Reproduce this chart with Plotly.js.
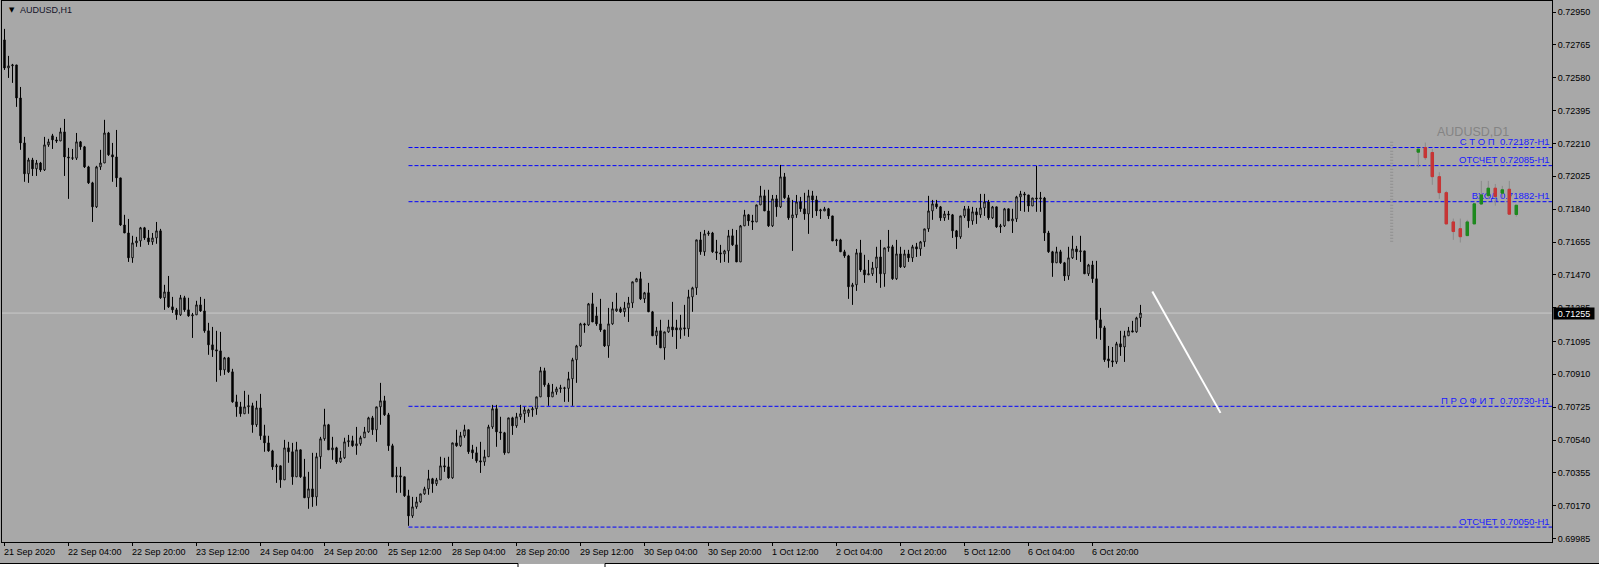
<!DOCTYPE html>
<html><head><meta charset="utf-8">
<script src="https://cdn.plot.ly/plotly-3.0.1.min.js"></script>
<style>html,body{margin:0;padding:0;background:#a8a8a8;}#chart{width:1599px;height:567px;}</style>
</head><body><div id="chart"></div>
<script>
// ---- H1 candles (AUDUSD) ----
const barOpen = [
0.72793,0.72635,0.72647,0.72652,0.72466,0.72213,0.72039,0.72117,0.72067,0.72100,
0.72061,0.72202,0.72253,0.72230,0.72224,0.72275,0.72134,0.72129,0.72127,0.72219,
0.72191,0.72078,0.71988,0.71853,0.72078,0.72100,0.72269,0.72146,0.72134,0.72016,
0.71751,0.71706,0.71566,0.71650,0.71661,0.71735,0.71678,0.71656,0.71678,0.71718,
0.71341,0.71374,0.71290,0.71273,0.71245,0.71341,0.71273,0.71239,0.71245,0.71301,
0.71267,0.71155,0.71076,0.71048,0.71042,0.70935,0.71003,0.70924,0.70755,0.70727,
0.70688,0.70727,0.70733,0.70626,0.70721,0.70564,0.70524,0.70479,0.70389,0.70395,
0.70316,0.70496,0.70474,0.70333,0.70485,0.70333,0.70215,0.70265,0.70220,0.70446,
0.70547,0.70626,0.70485,0.70496,0.70417,0.70440,0.70530,0.70536,0.70508,0.70519,
0.70553,0.70586,0.70665,0.70598,0.70727,0.70761,0.70682,0.70508,0.70333,0.70339,
0.70333,0.70226,0.70113,0.70164,0.70192,0.70237,0.70265,0.70322,0.70294,0.70316,
0.70395,0.70389,0.70327,0.70524,0.70508,0.70564,0.70598,0.70485,0.70468,0.70423,
0.70417,0.70446,0.70614,0.70716,0.70586,0.70581,0.70468,0.70665,0.70620,0.70671,
0.70688,0.70693,0.70710,0.70716,0.70783,0.70930,0.70851,0.70783,0.70811,0.70828,
0.70834,0.70831,0.70885,0.70992,0.71070,0.71194,0.71188,0.71307,0.71239,0.71194,
0.71160,0.71070,0.71194,0.71267,0.71279,0.71262,0.71284,0.71312,0.71431,0.71448,
0.71335,0.71369,0.71262,0.71127,0.71155,0.71059,0.71149,0.71177,0.71172,0.71160,
0.71172,0.71166,0.71346,0.71397,0.71667,0.71600,0.71701,0.71706,0.71600,0.71594,
0.71588,0.71605,0.71690,0.71639,0.71543,0.71746,0.71808,0.71774,0.71768,0.71864,
0.71915,0.71830,0.71746,0.71898,0.71853,0.72022,0.71904,0.71791,0.71808,0.71881,
0.71842,0.71813,0.71915,0.71892,0.71830,0.71830,0.71842,0.71802,0.71661,0.71667,
0.71600,0.71577,0.71403,0.71414,0.71594,0.71498,0.71470,0.71476,0.71509,0.71571,
0.71476,0.71622,0.71628,0.71448,0.71588,0.71515,0.71588,0.71566,0.71628,0.71616,
0.71656,0.71729,0.71830,0.71870,0.71853,0.71791,0.71813,0.71808,0.71718,0.71684,
0.71802,0.71842,0.71774,0.71825,0.71808,0.71847,0.71881,0.71791,0.71853,0.71740,
0.71746,0.71842,0.71774,0.71785,0.71909,0.71926,0.71920,0.71858,0.71903,0.71898,
0.71903,0.71706,0.71600,0.71538,0.71600,0.71538,0.71464,0.71566,0.71616,0.71600,
0.71605,0.71476,0.71526,0.71448,0.71217,0.71172,0.70997,0.70986,0.70980,0.71082,
0.71064,0.71127,0.71155,0.71149,0.71228];
const barHigh = [
0.72855,0.72703,0.72658,0.72652,0.72528,0.72247,0.72129,0.72129,0.72117,0.72106,
0.72247,0.72236,0.72264,0.72247,0.72298,0.72348,0.72185,0.72179,0.72269,0.72224,
0.72196,0.72084,0.71994,0.72084,0.72174,0.72343,0.72275,0.72213,0.72286,0.72016,
0.71808,0.71785,0.71690,0.71684,0.71740,0.71740,0.71723,0.71706,0.71768,0.71729,
0.71414,0.71464,0.71346,0.71284,0.71357,0.71352,0.71341,0.71256,0.71324,0.71346,
0.71335,0.71200,0.71177,0.71155,0.71149,0.71008,0.71008,0.70941,0.70795,0.70755,
0.70817,0.70795,0.70750,0.70761,0.70800,0.70626,0.70564,0.70485,0.70406,0.70395,
0.70541,0.70530,0.70524,0.70530,0.70485,0.70434,0.70361,0.70468,0.70468,0.70558,
0.70716,0.70631,0.70558,0.70502,0.70479,0.70553,0.70569,0.70564,0.70614,0.70564,
0.70614,0.70671,0.70676,0.70727,0.70862,0.70789,0.70693,0.70519,0.70389,0.70389,
0.70333,0.70260,0.70220,0.70220,0.70237,0.70277,0.70372,0.70327,0.70327,0.70446,
0.70440,0.70446,0.70524,0.70598,0.70586,0.70626,0.70598,0.70513,0.70502,0.70530,
0.70485,0.70626,0.70738,0.70738,0.70671,0.70586,0.70665,0.70671,0.70693,0.70738,
0.70727,0.70716,0.70727,0.70783,0.70952,0.70947,0.70862,0.70856,0.70840,0.70851,
0.70840,0.70924,0.71003,0.71076,0.71200,0.71200,0.71312,0.71369,0.71290,0.71335,
0.71160,0.71284,0.71318,0.71369,0.71290,0.71318,0.71346,0.71431,0.71453,0.71487,
0.71374,0.71425,0.71267,0.71177,0.71217,0.71149,0.71217,0.71318,0.71217,0.71245,
0.71301,0.71386,0.71403,0.71667,0.71712,0.71723,0.71718,0.71712,0.71667,0.71639,
0.71611,0.71723,0.71729,0.71723,0.71751,0.71836,0.71813,0.71808,0.71864,0.71971,
0.71949,0.71949,0.71920,0.71920,0.72089,0.72044,0.71920,0.71892,0.71920,0.71909,
0.71932,0.71949,0.71943,0.71915,0.71842,0.71853,0.71847,0.71802,0.71673,0.71673,
0.71611,0.71583,0.71425,0.71616,0.71667,0.71583,0.71554,0.71543,0.71628,0.71667,
0.71622,0.71723,0.71639,0.71667,0.71628,0.71611,0.71611,0.71639,0.71650,0.71661,
0.71729,0.71915,0.71892,0.71892,0.71858,0.71830,0.71830,0.71813,0.71723,0.71802,
0.71858,0.71858,0.71853,0.71847,0.71926,0.71926,0.71892,0.71858,0.71853,0.71757,
0.71847,0.71842,0.71842,0.71915,0.71943,0.71937,0.71920,0.71903,0.72084,0.71937,
0.71909,0.71718,0.71605,0.71628,0.71611,0.71543,0.71628,0.71690,0.71633,0.71690,
0.71605,0.71532,0.71549,0.71549,0.71284,0.71183,0.71070,0.71064,0.71093,0.71155,
0.71155,0.71177,0.71211,0.71234,0.71301];
const barLow = [
0.72624,0.72579,0.72551,0.72416,0.72174,0.71994,0.71988,0.72027,0.72027,0.72050,
0.72055,0.72191,0.72179,0.72213,0.72224,0.72027,0.71898,0.72117,0.72117,0.72174,
0.72072,0.71982,0.71768,0.71847,0.72061,0.72100,0.72140,0.71994,0.71965,0.71746,
0.71706,0.71543,0.71538,0.71628,0.71628,0.71667,0.71639,0.71639,0.71645,0.71335,
0.71273,0.71284,0.71256,0.71217,0.71239,0.71262,0.71234,0.71115,0.71245,0.71262,
0.71144,0.71020,0.71008,0.70868,0.70902,0.70907,0.70918,0.70750,0.70671,0.70671,
0.70688,0.70688,0.70581,0.70614,0.70541,0.70474,0.70474,0.70372,0.70299,0.70271,
0.70316,0.70412,0.70288,0.70333,0.70327,0.70215,0.70153,0.70164,0.70170,0.70378,
0.70536,0.70485,0.70429,0.70406,0.70412,0.70434,0.70502,0.70502,0.70457,0.70508,
0.70553,0.70581,0.70569,0.70530,0.70626,0.70676,0.70479,0.70333,0.70243,0.70243,
0.70220,0.70057,0.70102,0.70153,0.70187,0.70232,0.70232,0.70243,0.70282,0.70316,
0.70361,0.70322,0.70322,0.70502,0.70502,0.70553,0.70462,0.70434,0.70412,0.70355,
0.70395,0.70446,0.70603,0.70502,0.70541,0.70457,0.70468,0.70569,0.70609,0.70654,
0.70637,0.70671,0.70671,0.70682,0.70783,0.70840,0.70733,0.70783,0.70795,0.70806,
0.70755,0.70755,0.70733,0.70862,0.71064,0.71144,0.71183,0.71205,0.71183,0.71149,
0.71064,0.71003,0.71189,0.71262,0.71256,0.71234,0.71205,0.71284,0.71431,0.71329,
0.71312,0.71262,0.71127,0.71076,0.71059,0.70992,0.71144,0.71121,0.71053,0.71110,
0.71127,0.71121,0.71262,0.71357,0.71583,0.71577,0.71690,0.71594,0.71554,0.71538,
0.71543,0.71538,0.71633,0.71543,0.71543,0.71746,0.71746,0.71723,0.71768,0.71864,
0.71830,0.71740,0.71740,0.71797,0.71847,0.71898,0.71780,0.71605,0.71791,0.71825,
0.71780,0.71701,0.71791,0.71802,0.71785,0.71830,0.71785,0.71661,0.71633,0.71600,
0.71566,0.71335,0.71301,0.71380,0.71487,0.71425,0.71470,0.71464,0.71425,0.71397,
0.71403,0.71600,0.71442,0.71442,0.71509,0.71509,0.71543,0.71543,0.71571,0.71577,
0.71628,0.71712,0.71780,0.71842,0.71774,0.71774,0.71780,0.71678,0.71616,0.71673,
0.71791,0.71735,0.71752,0.71757,0.71791,0.71802,0.71780,0.71785,0.71735,0.71706,
0.71740,0.71774,0.71706,0.71768,0.71830,0.71825,0.71825,0.71858,0.71825,0.71825,
0.71661,0.71594,0.71459,0.71538,0.71532,0.71436,0.71442,0.71560,0.71554,0.71543,
0.71476,0.71464,0.71425,0.71110,0.71104,0.70980,0.70947,0.70952,0.70969,0.71014,
0.70980,0.71127,0.71149,0.71144,0.71177];
const barClose = [
0.72635,0.72647,0.72652,0.72466,0.72213,0.72039,0.72117,0.72067,0.72100,0.72061,
0.72202,0.72219,0.72230,0.72224,0.72275,0.72134,0.72129,0.72127,0.72219,0.72191,
0.72078,0.71988,0.71853,0.72078,0.72100,0.72269,0.72146,0.72134,0.72016,0.71751,
0.71706,0.71566,0.71650,0.71661,0.71735,0.71678,0.71656,0.71678,0.71718,0.71341,
0.71374,0.71290,0.71273,0.71245,0.71341,0.71273,0.71239,0.71245,0.71301,0.71267,
0.71155,0.71076,0.71048,0.71042,0.70935,0.71003,0.70924,0.70755,0.70727,0.70688,
0.70727,0.70733,0.70626,0.70721,0.70564,0.70524,0.70479,0.70389,0.70395,0.70316,
0.70496,0.70474,0.70333,0.70485,0.70333,0.70215,0.70265,0.70220,0.70446,0.70547,
0.70626,0.70485,0.70496,0.70417,0.70440,0.70530,0.70536,0.70508,0.70519,0.70553,
0.70586,0.70665,0.70598,0.70727,0.70761,0.70682,0.70508,0.70333,0.70339,0.70333,
0.70226,0.70113,0.70164,0.70192,0.70237,0.70265,0.70322,0.70294,0.70316,0.70395,
0.70389,0.70327,0.70524,0.70508,0.70564,0.70598,0.70474,0.70468,0.70423,0.70417,
0.70446,0.70614,0.70716,0.70586,0.70581,0.70468,0.70665,0.70620,0.70671,0.70688,
0.70710,0.70710,0.70716,0.70783,0.70930,0.70851,0.70783,0.70811,0.70828,0.70834,
0.70831,0.70885,0.70992,0.71070,0.71194,0.71188,0.71307,0.71205,0.71194,0.71160,
0.71070,0.71194,0.71279,0.71279,0.71262,0.71284,0.71312,0.71431,0.71448,0.71335,
0.71369,0.71262,0.71127,0.71155,0.71059,0.71149,0.71177,0.71160,0.71160,0.71172,
0.71166,0.71346,0.71397,0.71667,0.71600,0.71701,0.71706,0.71600,0.71594,0.71588,
0.71605,0.71690,0.71639,0.71543,0.71746,0.71808,0.71774,0.71768,0.71864,0.71915,
0.71830,0.71746,0.71898,0.71853,0.72022,0.71904,0.71791,0.71808,0.71881,0.71842,
0.71813,0.71915,0.71892,0.71830,0.71836,0.71842,0.71802,0.71661,0.71667,0.71600,
0.71577,0.71403,0.71414,0.71594,0.71498,0.71470,0.71476,0.71509,0.71571,0.71476,
0.71622,0.71628,0.71448,0.71588,0.71515,0.71588,0.71566,0.71628,0.71616,0.71656,
0.71729,0.71830,0.71870,0.71853,0.71791,0.71813,0.71808,0.71718,0.71684,0.71802,
0.71842,0.71774,0.71825,0.71808,0.71847,0.71881,0.71791,0.71853,0.71740,0.71746,
0.71842,0.71774,0.71785,0.71909,0.71926,0.71920,0.71858,0.71903,0.71898,0.71903,
0.71706,0.71600,0.71538,0.71600,0.71538,0.71464,0.71566,0.71616,0.71600,0.71605,
0.71476,0.71526,0.71448,0.71217,0.71172,0.70992,0.70986,0.70980,0.71082,0.71064,
0.71127,0.71155,0.71149,0.71228,0.71255];

// ---- time axis labels (every 16 H1 bars) ----
const tickBars = [0,16,32,48,64,80,96,112,128,144,160,176,192,208,224,240,256,272];
const tickLabels = ["21 Sep 2020","22 Sep 04:00","22 Sep 20:00","23 Sep 12:00","24 Sep 04:00","24 Sep 20:00",
  "25 Sep 12:00","28 Sep 04:00","28 Sep 20:00","29 Sep 12:00","30 Sep 04:00","30 Sep 20:00",
  "1 Oct 12:00","2 Oct 04:00","2 Oct 20:00","5 Oct 12:00","6 Oct 04:00","6 Oct 20:00"];

// ---- price axis labels ----
const priceTicks = [0.72950,0.72765,0.72580,0.72395,0.72210,0.72025,0.71840,0.71655,0.71470,
  0.71285,0.71095,0.70910,0.70725,0.70540,0.70355,0.70170,0.69985];

// ---- horizontal levels ----
const levelPrices = [0.72187,0.72085,0.71882,0.70730,0.70050];
const levelLabels = ["С Т О П  0.72187-H1","ОТСЧЕТ 0.72085-H1","ВХОД 0.71882-H1","П Р О Ф И Т  0.70730-H1","ОТСЧЕТ 0.70050-H1"];
const levelStartBar = 101;
const lastPrice = 0.71255;

// ---- trend line ----
const trendX = [286.95, 304.0];
const trendY = [0.71376, 0.70693];

// ---- AUDUSD D1 overlay ----
const d1Open  = [0.72161,0.72187,0.72159,0.72023,0.71933,0.71768,0.71730,0.71691,0.71757,0.71869,0.71916,0.71958,0.71930,0.71952,0.71810];
const d1High  = [0.72179,0.72215,0.72178,0.72048,0.71943,0.71787,0.71787,0.71780,0.71870,0.71999,0.71999,0.71982,0.71971,0.71999,0.71862];
const d1Low   = [0.72076,0.72117,0.71977,0.71898,0.71757,0.71667,0.71652,0.71691,0.71757,0.71866,0.71896,0.71860,0.71902,0.71812,0.71798];
const d1Close = [0.72178,0.72130,0.72023,0.71933,0.71757,0.71714,0.71685,0.71768,0.71870,0.71920,0.71958,0.71911,0.71949,0.71812,0.71862];

// ---- layout constants ----
const W = 1599, H = 567;
const M = {l:2, r:47, t:1, b:25};
const xRange = [-0.625, 386.875];
const yRange = [0.69966, 0.73012];
const x2Range = [-202.33, 19.10];
const FONT = "Liberation Sans, Arial, sans-serif";
const BG = "#a8a8a8";

const barIdx = barClose.map((_, i) => i);
const d1Idx = d1Close.map((_, i) => i);
const pw = W - M.l - M.r, ph = H - M.t - M.b;
const px2paperX = p => (p - M.l) / pw;
const px2paperY = p => (H - M.b - p) / ph;

const traces = [];
traces.push({type:'scatter', mode:'text', x: levelPrices.map(() => xRange[1] - 0.6), y: levelPrices,
  text: levelLabels, textposition:'top left', textfont:{family:FONT, size:9.5, color:'#1a1aff'},
  hoverinfo:'skip', showlegend:false, xaxis:'x', yaxis:'y'});
traces.push({type:'candlestick', x: barIdx, open: barOpen, high: barHigh, low: barLow, close: barClose,
  increasing:{line:{color:'#000000', width:1}, fillcolor:'#ffffff'},
  decreasing:{line:{color:'#000000', width:1}, fillcolor:'#000000'},
  whiskerwidth:0, hoverinfo:'skip', showlegend:false, xaxis:'x', yaxis:'y'});
traces.push({type:'scatter', mode:'lines', x: trendX, y: trendY, line:{color:'#ffffff', width:2},
  hoverinfo:'skip', showlegend:false, xaxis:'x', yaxis:'y'});
traces.push({type:'candlestick', x: d1Idx, open: d1Open, high: d1High, low: d1Low, close: d1Close,
  increasing:{line:{color:'#8a8a8a', width:1}, fillcolor:'#8a8a8a'},
  decreasing:{line:{color:'#8a8a8a', width:1}, fillcolor:'#8a8a8a'},
  whiskerwidth:0, hoverinfo:'skip', showlegend:false, xaxis:'x2', yaxis:'y'});
traces.push({type:'candlestick', x: d1Idx, open: d1Open, close: d1Close,
  high: d1Open.map((o, i) => Math.max(o, d1Close[i])), low: d1Open.map((o, i) => Math.min(o, d1Close[i])),
  increasing:{line:{color:'#1d8a1d', width:1}, fillcolor:'#1d8a1d'},
  decreasing:{line:{color:'#c83434', width:1}, fillcolor:'#c83434'},
  whiskerwidth:0, hoverinfo:'skip', showlegend:false, xaxis:'x2', yaxis:'y'});

const shapes = [];
shapes.push({type:'line', xref:'paper', yref:'y', x0:0, x1:1, y0:lastPrice, y1:lastPrice,
  line:{color:'#c8c8c8', width:1}, layer:'below'});
levelPrices.forEach(p => shapes.push({type:'line', xref:'x', yref:'y', x0:levelStartBar, x1:xRange[1], y0:p, y1:p,
  line:{color:'#0000ff', width:1, dash:'4px,2px'}, layer:'below'}));
shapes.push({type:'line', xref:'x2', yref:'y', x0:-3.8, x1:-3.8, y0:0.71656, y1:0.72224,
  line:{color:'#8e8e8e', width:3, dash:'1px,2px'}});
shapes.push({type:'rect', xref:'paper', yref:'paper', x0:px2paperX(0), x1:px2paperX(W), y0:px2paperY(567), y1:px2paperY(564),
  fillcolor:'#ffffff', line:{width:0}});
shapes.push({type:'line', xref:'paper', yref:'paper', x0:px2paperX(0), x1:px2paperX(518), y0:px2paperY(563.5), y1:px2paperY(563.5), line:{color:'#000', width:1}});
shapes.push({type:'line', xref:'paper', yref:'paper', x0:px2paperX(605), x1:px2paperX(W), y0:px2paperY(563.5), y1:px2paperY(563.5), line:{color:'#000', width:1}});
shapes.push({type:'line', xref:'paper', yref:'paper', x0:px2paperX(518), x1:px2paperX(518), y0:px2paperY(567), y1:px2paperY(563.5), line:{color:'#000', width:1}});
shapes.push({type:'line', xref:'paper', yref:'paper', x0:px2paperX(605), x1:px2paperX(605), y0:px2paperY(567), y1:px2paperY(563.5), line:{color:'#000', width:1}});

const annotations = [];
tickBars.forEach((b, k) => annotations.push({x:b, xref:'x', y:0, yref:'paper', xanchor:'left', yanchor:'top',
  xshift:-3, yshift:-3, text:tickLabels[k], showarrow:false, font:{family:FONT, size:9, color:'#000'}}));
annotations.push({x:px2paperX(7), xref:'paper', y:px2paperY(10), yref:'paper', xanchor:'left', yanchor:'middle',
  text:'▼', showarrow:false, font:{family:'DejaVu Sans', size:7, color:'#000'}});
annotations.push({x:px2paperX(18), xref:'paper', y:px2paperY(10), yref:'paper', xanchor:'left', yanchor:'middle',
  text:'AUDUSD,H1', showarrow:false, font:{family:FONT, size:9, color:'#141428'}});
annotations.push({x:px2paperX(1436), xref:'paper', y:px2paperY(131.5), yref:'paper', xanchor:'left', yanchor:'middle',
  text:'AUDUSD,D1', showarrow:false, borderpad:0, font:{family:FONT, size:12.5, color:'#848484'}});
annotations.push({x:1, xref:'paper', xshift:0.5, y:lastPrice, yref:'y', xanchor:'left', yanchor:'middle',
  text:lastPrice.toFixed(5), showarrow:false, bgcolor:'#000000', width:38, height:9, borderpad:1,
  font:{family:FONT, size:9, color:'#ffffff'}});

const layout = {
  width:W, height:H, margin:M, paper_bgcolor:BG, plot_bgcolor:'rgba(0,0,0,0)',
  showlegend:false, boxgap:0.5, hovermode:false, font:{family:FONT, size:9, color:'#000'},
  xaxis:{range:xRange, showgrid:false, zeroline:false, showline:true, mirror:true, linecolor:'#000', linewidth:1,
    tickmode:'array', tickvals:tickBars, ticktext:tickBars.map(() => ''), ticks:'outside', ticklen:3, tickcolor:'#000',
    showticklabels:false, rangeslider:{visible:false}, fixedrange:true},
  xaxis2:{range:x2Range, overlaying:'x', anchor:'y', visible:false, showgrid:false, zeroline:false,
    rangeslider:{visible:false}, fixedrange:true},
  yaxis:{side:'right', range:yRange, showgrid:false, zeroline:false, showline:true, mirror:true, linecolor:'#000', linewidth:1,
    tickmode:'array', tickvals:priceTicks, ticktext:priceTicks.map(v => v.toFixed(5)), ticks:'outside', ticklen:3, tickcolor:'#000',
    tickfont:{family:FONT, size:9, color:'#000'}, fixedrange:true},
  shapes, annotations
};
Plotly.newPlot('chart', traces, layout, {staticPlot:true, displayModeBar:false});
</script></body></html>
